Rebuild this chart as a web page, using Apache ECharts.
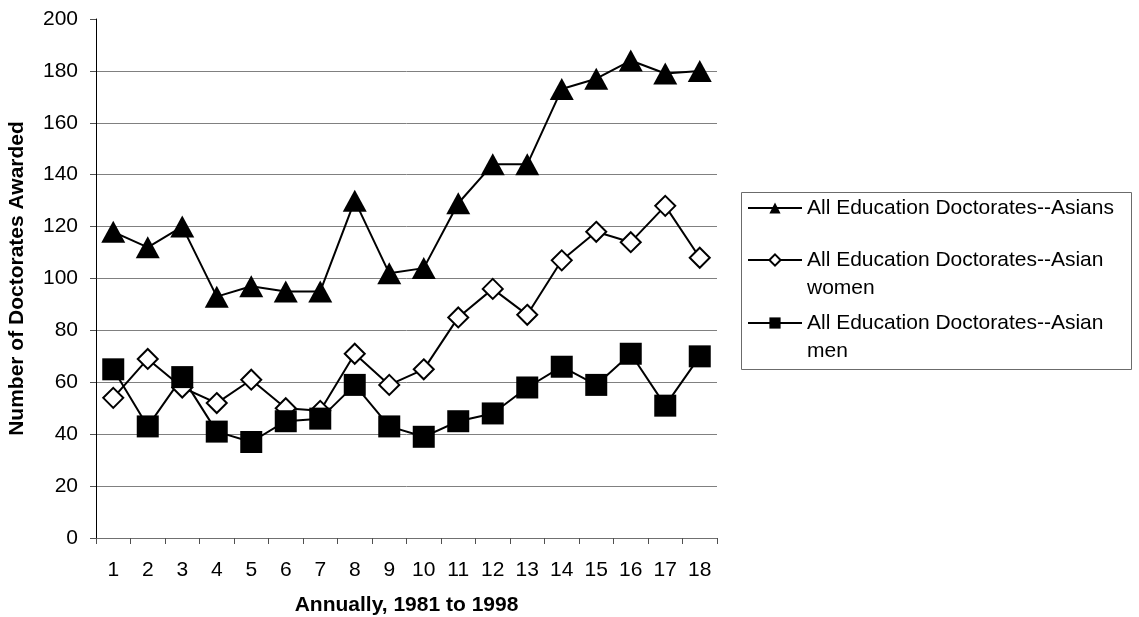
<!DOCTYPE html>
<html>
<head>
<meta charset="utf-8">
<title>Education Doctorates Awarded to Asians, 1981-1998</title>
<script src="https://cdn.jsdelivr.net/npm/echarts@6/dist/echarts.min.js"></script>
<style>
  html, body { margin: 0; padding: 0; background: #ffffff; }
  #chart { width: 1139px; height: 617px; }
</style>
</head>
<body>
<div id="chart"></div>
<script>
// Year index (1 = 1981 ... 18 = 1998)
const categories = ['1', '2', '3', '4', '5', '6', '7', '8', '9', '10', '11', '12', '13', '14', '15', '16', '17', '18'];

const seriesNames = [
  'All Education Doctorates--Asians',
  'All Education Doctorates--Asian women',
  'All Education Doctorates--Asian men'
];
// Legend text, wrapped as in the legend box
const legendLabels = [
  ['All Education Doctorates--Asians'],
  ['All Education Doctorates--Asian', 'women'],
  ['All Education Doctorates--Asian', 'men']
];

const asians = [118, 112, 120, 93, 97, 95, 95, 130, 102, 104, 129, 144, 144, 173, 177, 184, 179, 180];
const asianWomen = [54, 69, 58, 52, 61, 50, 49, 71, 59, 65, 85, 96, 86, 107, 118, 114, 128, 108];
const asianMen = [65, 43, 62, 41, 37, 45, 46, 59, 43, 39, 45, 48, 58, 66, 59, 71, 51, 70];

const yAxisTitle = 'Number of Doctorates Awarded';
const xAxisTitle = 'Annually, 1981 to 1998';

const FONT = '"Liberation Sans", Arial, Helvetica, sans-serif';
const LINE_H = 28;

const chart = echarts.init(document.getElementById('chart'), null, { renderer: 'canvas' });

// One legend per entry so that each wrapped entry keeps its marker on the first line.
function legendFor(i, top) {
  const lines = legendLabels[i];
  // For wrapped entries an empty leading line keeps the first text line level with the marker
  const text = lines.length > 1 ? '\n' + lines.join('\n') : lines[0];
  return {
    show: true,
    orient: 'vertical',
    left: 747,
    top: top,
    padding: 0,
    itemWidth: 54,
    itemHeight: 14,
    data: [seriesNames[i]],
    formatter: function () { return text; },
    textStyle: {
      fontFamily: FONT,
      fontSize: 21,
      color: '#000000',
      lineHeight: LINE_H
    }
  };
}

const option = {
  backgroundColor: '#ffffff',
  animation: false,
  grid: { left: 96, right: 422, top: 19, bottom: 79, containLabel: false, outerBoundsMode: 'none' },
  legend: [
    legendFor(0, 194),
    legendFor(1, 218),
    legendFor(2, 281)
  ],
  graphic: [{
    type: 'rect',
    left: 739,
    top: 190,
    shape: { width: 390, height: 177 },
    style: { fill: 'none', stroke: '#6b6b6b', lineWidth: 1 },
    silent: true
  }],
  xAxis: {
    type: 'category',
    data: categories,
    boundaryGap: true,
    name: xAxisTitle,
    nameLocation: 'middle',
    nameGap: 57,
    nameTextStyle: { fontFamily: FONT, fontSize: 21, fontWeight: 'bold', color: '#000000' },
    axisLine: { show: true, lineStyle: { color: '#707070', width: 1 } },
    axisTick: { show: true, alignWithLabel: false, length: 6, lineStyle: { color: '#505050', width: 1 } },
    axisLabel: { fontFamily: FONT, fontSize: 21, color: '#000000', margin: 22, interval: 0 },
    splitLine: { show: false }
  },
  yAxis: {
    type: 'value',
    min: 0,
    max: 200,
    interval: 20,
    name: yAxisTitle,
    nameLocation: 'middle',
    nameGap: 68,
    nameTextStyle: { fontFamily: FONT, fontSize: 21, fontWeight: 'bold', color: '#000000' },
    axisLine: { show: true, lineStyle: { color: '#000000', width: 1 } },
    axisTick: { show: true, length: 6, lineStyle: { color: '#505050', width: 1 } },
    axisLabel: { fontFamily: FONT, fontSize: 21, color: '#000000', margin: 18 },
    splitLine: { show: true, showMaxLine: false, lineStyle: { color: '#808080', width: 1 } }
  },
  series: [
    {
      name: seriesNames[0],
      type: 'line',
      data: asians,
      symbol: 'triangle',
      symbolSize: [24, 22],
      showAllSymbol: true,
      lineStyle: { color: '#000000', width: 2 },
      itemStyle: { color: '#000000', borderColor: '#000000', borderWidth: 0 }
    },
    {
      name: seriesNames[1],
      type: 'line',
      data: asianWomen,
      symbol: 'diamond',
      symbolSize: [20, 20],
      showAllSymbol: true,
      lineStyle: { color: '#000000', width: 2 },
      itemStyle: { color: '#ffffff', borderColor: '#000000', borderWidth: 2 }
    },
    {
      name: seriesNames[2],
      type: 'line',
      data: asianMen,
      symbol: 'rect',
      symbolSize: [22, 22],
      showAllSymbol: true,
      lineStyle: { color: '#000000', width: 2 },
      itemStyle: { color: '#000000', borderColor: '#000000', borderWidth: 0 }
    }
  ]
};

chart.setOption(option);
</script>
</body>
</html>
